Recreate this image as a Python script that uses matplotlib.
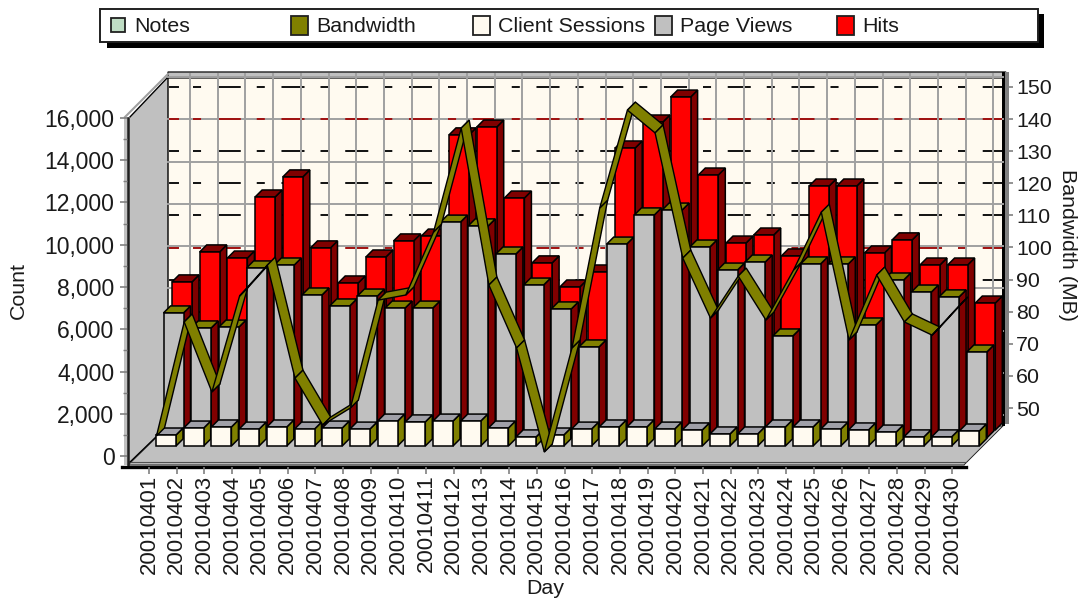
import matplotlib
matplotlib.use("Agg")
import matplotlib.pyplot as plt
from matplotlib.patches import Polygon, Rectangle

plt.rcParams['font.family'] = ['Liberation Sans', 'DejaVu Sans']
plt.rcParams['lines.scale_dashes'] = False

days = [str(20010401 + i) for i in range(30)]
client_sessions = [520, 850, 900, 800, 900, 800, 850, 800, 1180, 1140, 1180, 1180, 850, 430, 520,
                   800, 900, 900, 800, 760, 570, 570, 900, 900, 800, 760, 660, 430, 430, 710]
page_views = [5920, 5210, 5250, 8050, 8190, 6770, 6250, 6720, 6150, 6150, 10220, 10040, 8710, 7240, 6110,
              4310, 9180, 10560, 10790, 9040, 7950, 8330, 4830, 8240, 8240, 5350, 7480, 6910, 6680, 4070]
hits = [7010, 8430, 8140, 11030, 11980, 8620, 6960, 8190, 8950, 9180, 13970, 14340, 10980, 7910, 6770,
        7480, 13350, 14580, 15760, 12070, 8850, 9230, 8240, 11550, 11550, 8380, 9000, 7810, 7810, 6010]
bandwidth = [41.3, 76.8, 55, 84.9, 94.5, 59.3, 44.7, 50, 83.6, 85.2, 104.8, 137.2, 88.3, 68.7, 36.3,
             68.7, 112.3, 142.8, 135.7, 96.7, 78, 91.1, 77.4, 93, 111, 71.2, 91.4, 76.8, 72.7, 82.1]
count_ticks = list(range(0, 16001, 2000))
count_minor = list(range(1000, 16000, 2000))
bw_ticks = list(range(50, 151, 10))
legend_items = ["Notes", "Bandwidth", "Client Sessions", "Page Views", "Hits"]

W, H = 1080, 599
BLACK, OLIVE, CREAM, GRAY, RED, DRED, GRID = '#000000', '#808000', '#FFFAF0', '#C0C0C0', '#FF0000', '#800000', '#A0A0A0'
TXT = '#1a1a1a'
STEP = 27.7            # px per day
TICK0 = 149            # px of first day tick
ZERO = 456             # px of count 0
PXK = 21.125           # px per 1000 count
BW50, BWPX = 408, 3.21 # px of 50 MB, px per MB
L, R, B, T = 127, 966, 467, 74
DEPTH = 41

fig = plt.figure(figsize=(W / 100, H / 100), dpi=100, facecolor='white')

# pixel-space chrome layer
bg = fig.add_axes([0, 0, 1, 1], zorder=0)
bg.set_xlim(0, W); bg.set_ylim(H, 0); bg.axis('off')

# back wall
bg.add_patch(Polygon([(168, T), (1003, T), (1003, 426), (168, 426)], fc=CREAM, ec='none'))
# count grid on wall
for v in count_ticks:
    y = ZERO - v / 1000 * PXK - DEPTH
    if y > T + 2:
        bg.plot([168, 1003], [y, y], color=GRID, lw=1.4)
# bandwidth dashed grid
for v in bw_ticks:
    y = BW50 - (v - 50) * BWPX
    col = '#a01010' if v in (140, 100, 60) else '#101010'
    bg.plot([193, 1002], [y, y], color=col, lw=1.4, ls=(0, (5.8, 12, 16.6, 11.5)), solid_capstyle='butt')
    bg.plot([170, 178], [y, y], color=col, lw=1.4)
for i in range(30):
    x = TICK0 + STEP * i + DEPTH
    bg.plot([x, x], [T, 426], color=GRID, lw=1.4)
# top rim
bg.add_patch(Polygon([(168, 72), (1006, 72), (1003, 78), (168, 78)], fc=GRAY, ec='#202020', lw=1.0))
# left wall
bg.add_patch(Polygon([(129, 118), (168, 77), (168, 426), (129, 464)], fc=GRAY, ec=BLACK, lw=1.0))
bg.plot([168, 125], [74, 117], color=GRID, lw=1.5)
bg.add_patch(Rectangle((124, 117), 6, 348, fc=GRAY, ec='none'))
bg.plot([127.5, 127.5], [118, 466], color='#202020', lw=1.8)
# floor
bg.add_patch(Polygon([(128, 465), (168, 426), (1003, 426), (964, 465)], fc=GRAY, ec='#303030', lw=0.8))
bg.plot([130, 966], [462, 462], color='#505050', lw=0.8)
bg.plot([122, 966], [466.5, 466.5], color=BLACK, lw=2.4)
bg.plot([966, 1003], [465, 428], color='white', lw=1.0)
# right wall strip
bg.add_patch(Rectangle((1002, 72), 3, 354, fc=BLACK, ec='none'))
bg.add_patch(Rectangle((1005, 72), 4, 352, fc='#808080', ec='none'))
# stray thin line from the corner to the first bandwidth point
bg.plot([130, 160], [462, 433], color=BLACK, lw=0.9)

# legend
bg.add_patch(Rectangle((107, 14), 937, 34, fc=BLACK, ec='none'))
bg.add_patch(Rectangle((99.5, 8.5), 938, 33, fc='white', ec='#202020', lw=1.4))
swatches = [('#BFDDC4', 111, 134), (OLIVE, 291, 316), (CREAM, 473, 498), (GRAY, 655, 680), (RED, 837, 862)]
for (col, sx, tx), label in zip(swatches, legend_items):
    w_, h_ = (14, 14) if label == "Notes" else (17, 19)
    bg.add_patch(Rectangle((sx, 25 - h_ / 2), w_, h_, fc=col, ec='#202020', lw=1.3))
    bg.text(tx, 26.5, label, fontsize=15.4, va='center', ha='left', color=TXT)

# data axes: front plane of the chart
def fx(p):
    return (p - TICK0) / STEP + 1
def fy(p):
    return (ZERO - p) / PXK * 1000
ax = fig.add_axes([L / W, 1 - B / H, (R - L) / W, (B - T) / H], zorder=1)
ax.patch.set_alpha(0)
ax.set_xlim(fx(L), fx(R))
ax.set_ylim(fy(B), fy(T))
DX, DY = 1 / STEP, 1000 / PXK

def bars3d(vals, off, lift, front, side, top):
    base = lift * DY
    w = 20 * DX; dx = 7 * DX; dy = 7 * DY
    for i, v in enumerate(vals):
        x0 = i + 1 + off * DX
        x1 = x0 + w
        y1 = base + v
        ax.add_patch(Polygon([(x1, base), (x1 + dx, base + dy), (x1 + dx, y1 + dy), (x1, y1)],
                             fc=side, ec=BLACK, lw=1.1, clip_on=False))
        ax.add_patch(Polygon([(x0, y1), (x1, y1), (x1 + dx, y1 + dy), (x0 + dx, y1 + dy)],
                             fc=top, ec=BLACK, lw=1.1, clip_on=False))
        ax.bar(x0, v, width=w, bottom=base, align='edge', color=front, edgecolor=BLACK, linewidth=1.1, clip_on=False)

bars3d(hits, 23, 26, RED, DRED, DRED)
bars3d(page_views, 14.5, 18, GRAY, DRED, OLIVE)
bars3d(client_sessions, 7, 10, CREAM, OLIVE, '#A0A0A8')

for s in ('top', 'right', 'bottom', 'left'):
    ax.spines[s].set_visible(False)
ax.set_xticks(range(1, 31))
ax.set_xticklabels(days, rotation=90, fontsize=16, color=TXT)
ax.tick_params(axis='x', length=5, width=1.2, color='#808080', pad=0.5)
ax.set_yticks(count_ticks)
ax.set_yticks(count_minor, minor=True)
ax.set_yticklabels([f"{v:,}" for v in count_ticks], fontsize=16.5, color=TXT)
ax.tick_params(axis='y', which='major', length=5, width=1.2, color='#808080', pad=4)
ax.tick_params(axis='y', which='minor', length=3, width=1.0, color='#808080')
fig.text(545 / W, 1 - 588 / H, "Day", fontsize=15.4, ha='center', va='center', color=TXT)
fig.text(18 / W, 1 - 290 / H, "Count", fontsize=15.4, rotation=90, ha='center', va='center', color=TXT)
fig.text(1067 / W, 1 - 245 / H, "Bandwidth (MB)", fontsize=15.4, rotation=270, ha='center', va='center', color=TXT)

# bandwidth axis and ribbon
ax2 = ax.twinx()
ax2.patch.set_alpha(0)
ax2.set_ylim(50 + (BW50 - B) / BWPX, 50 + (BW50 - T) / BWPX)
for s in ('top', 'left', 'bottom', 'right'):
    ax2.spines[s].set_visible(False)
ax2.spines['right'].set_position(('outward', (1009 - R) * 0.72))
ax2.set_yticks(bw_ticks)
ax2.set_yticklabels([str(v) for v in bw_ticks], fontsize=15.4, color=TXT)
ax2.tick_params(axis='y', length=3, width=1.2, color='#808080', pad=2)
rx = 8 / STEP
ry = 8 / BWPX
xs = [i + 1 + 7.5 / STEP for i in range(30)]
for i in range(29):
    x0, x1, y0, y1 = xs[i], xs[i + 1], bandwidth[i], bandwidth[i + 1]
    ax2.add_patch(Polygon([(x0, y0), (x1, y1), (x1 + rx, y1 + ry), (x0 + rx, y0 + ry)],
                          fc=OLIVE, ec=BLACK, lw=1.0, clip_on=False, joinstyle='miter'))

fig.savefig('out.png', dpi=100, facecolor='white')
